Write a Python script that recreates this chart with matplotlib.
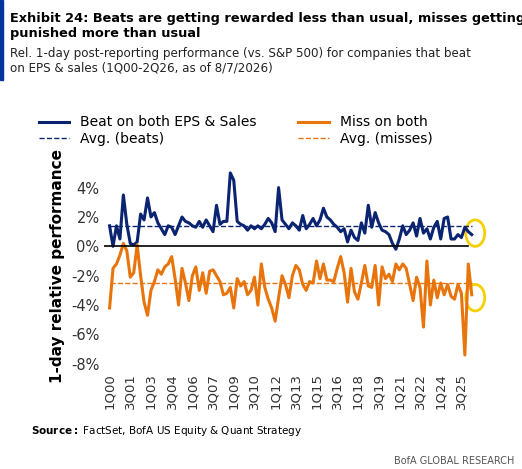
import matplotlib.pyplot as plt
from matplotlib.patches import Ellipse, Rectangle
import numpy as np

beat = [1.4,0.0,1.4,0.5,3.5,1.5,0.2,0.1,0.3,2.2,1.8,3.3,2.0,2.3,1.6,1.2,0.8,1.4,1.3,0.8,
        1.4,2.0,1.7,1.6,1.4,1.3,1.7,1.3,1.8,1.4,1.0,2.8,1.5,1.7,1.7,5.0,4.5,1.7,1.5,1.4,
        1.1,1.4,1.2,1.4,1.2,1.5,1.9,1.6,1.0,4.0,1.8,1.5,1.2,1.6,1.4,1.1,2.1,1.2,1.5,1.9,
        1.4,1.8,2.6,2.0,1.8,1.5,1.3,1.0,1.2,0.3,1.1,0.6,0.4,1.6,0.9,2.8,1.3,2.3,1.6,1.1,
        1.0,0.8,0.2,-0.2,0.5,1.4,0.8,1.1,1.6,0.7,1.9,0.9,1.2,0.5,1.3,1.7,0.5,1.9,2.0,0.5,
        0.5,0.8,0.6,1.3,1.0,0.8]
miss = [-4.2,-1.5,-1.2,-0.6,0.2,-0.3,-2.1,-1.8,0.1,-2.0,-3.8,-4.7,-3.0,-2.4,-1.6,-1.9,-1.4,-1.2,-0.7,-2.2,
        -4.0,-1.5,-2.5,-3.7,-2.0,-1.4,-3.0,-1.8,-3.2,-1.7,-1.6,-2.0,-2.4,-3.3,-3.2,-2.8,-4.2,-2.2,-2.7,-2.4,
        -3.3,-3.0,-2.1,-4.0,-1.2,-2.8,-3.6,-4.2,-5.1,-3.5,-2.0,-2.6,-3.5,-2.0,-1.3,-1.6,-2.6,-3.0,-2.4,-2.5,
        -1.0,-2.2,-1.2,-2.3,-2.3,-2.4,-1.5,-0.7,-1.8,-3.8,-1.5,-3.1,-3.6,-2.5,-1.3,-2.7,-2.8,-1.3,-4.0,-1.4,
        -2.2,-1.9,-2.4,-1.2,-1.6,-1.2,-1.5,-2.6,-3.7,-2.1,-2.8,-5.5,-1.0,-4.0,-2.3,-3.5,-2.5,-3.3,-2.6,-3.4,
        -3.6,-2.6,-3.2,-7.4,-1.2,-3.3]
avg_beat = 1.4
avg_miss = -2.5
quarters = [f"{q}Q{y:02d}" for y in range(0, 27) for q in range(1, 5)][:106]

navy = "#0a2472"; orange = "#e8740c"
fig = plt.figure(figsize=(5.22, 4.69), dpi=100)
ax = fig.add_axes([0.2, 0.215, 0.75, 0.435])
x = np.arange(len(beat))
l1, = ax.plot(x, beat, color=navy, lw=2.2, label="Beat on both EPS & Sales")
l2, = ax.plot(x, miss, color=orange, lw=2.2, label="Miss on both")
l3, = ax.plot(x, [avg_beat]*len(x), color=navy, lw=1, ls="--", label="Avg. (beats)")
l4, = ax.plot(x, [avg_miss]*len(x), color=orange, lw=1, ls="--", label="Avg. (misses)")
ax.axhline(0, color="black", lw=1.2, xmax=0.93)
ax.set_ylim(-8.3, 5.6)
ax.set_xlim(-1.5, 112)
ax.set_yticks(range(-8, 5, 2))
ax.set_yticklabels([f"{v}%" for v in range(-8, 5, 2)], fontsize=10.5, color="#333")
ax.set_xticks(x[::6])
ax.set_xticklabels(quarters[::6], rotation=90, fontsize=9.5, color="#333")
ax.tick_params(length=0)
for s in ax.spines.values(): s.set_visible(False)
ax.set_ylabel("1-day relative performance", fontsize=11, fontweight="bold")
ax.add_patch(Ellipse((106, 0.9), 5.5, 1.8, fill=False, ec="#f5d000", lw=2, clip_on=False))
ax.add_patch(Ellipse((106, -3.5), 5.5, 1.8, fill=False, ec="#f5d000", lw=2, clip_on=False))
ax.legend([l1, l3, l2, l4], [l.get_label() for l in (l1, l3, l2, l4)],
          ncol=2, loc="lower left", bbox_to_anchor=(-0.2, 1.03), frameon=False,
          fontsize=10, handlelength=2.2, columnspacing=3.0, labelspacing=0.15)

fig.patches.append(Rectangle((0.0, 0.83), 0.006, 0.17, transform=fig.transFigure, color="#0033a0"))
fig.text(0.02, 0.975, "Exhibit 24: Beats are getting rewarded less than usual, misses getting\npunished more than usual",
         fontsize=9.3, fontweight="bold", va="top", linespacing=1.25)
fig.text(0.02, 0.9, "Rel. 1-day post-reporting performance (vs. S&P 500) for companies that beat\non EPS & sales (1Q00-2Q26, as of 8/7/2026)",
         fontsize=8.6, va="top", color="#222", linespacing=1.2)
fig.text(0.06, 0.075, r"$\bf{Source:}$ FactSet, BofA US Equity & Quant Strategy", fontsize=7.5)
fig.text(0.985, 0.01, "BofA GLOBAL RESEARCH", fontsize=7, ha="right", color="#555")
fig.savefig("out.png", dpi=100)
